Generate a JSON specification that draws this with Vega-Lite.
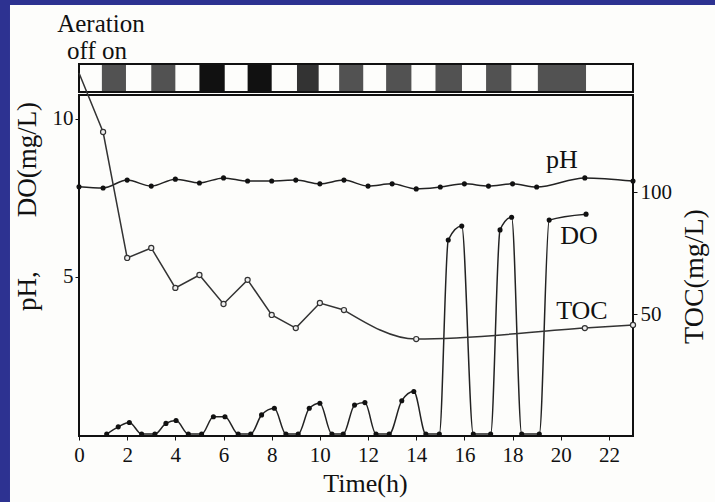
{
  "$schema": "https://vega.github.io/schema/vega-lite/v6.json",
  "autosize": {"type": "none"},
  "width": 554,
  "height": 341,
  "padding": {"left": 79, "top": 95, "right": 82, "bottom": 66},
  "background": "#2d3291",
  "config": {
    "font": "Liberation Serif",
    "view": {"stroke": null},
    "axis": {
      "labelFont": "Liberation Serif",
      "titleFont": "Liberation Serif",
      "labelColor": "#111111",
      "titleColor": "#111111",
      "tickColor": "#111111",
      "grid": false,
      "domain": false,
      "zindex": 2,
      "titleFontWeight": "normal",
      "labelOverlap": false,
      "labelFlush": false
    }
  },
  "datasets": {
    "ph": [
      {"t": 0, "ph": 7.85}, {"t": 1, "ph": 7.81}, {"t": 2, "ph": 8.06}, {"t": 3, "ph": 7.87},
      {"t": 4, "ph": 8.09}, {"t": 5, "ph": 7.97}, {"t": 6, "ph": 8.13}, {"t": 7, "ph": 8.03},
      {"t": 8, "ph": 8.03}, {"t": 9, "ph": 8.06}, {"t": 10, "ph": 7.94}, {"t": 11, "ph": 8.06},
      {"t": 12, "ph": 7.87}, {"t": 13, "ph": 7.94}, {"t": 14, "ph": 7.78}, {"t": 15, "ph": 7.84},
      {"t": 16, "ph": 7.94}, {"t": 17, "ph": 7.87}, {"t": 18, "ph": 7.94}, {"t": 19, "ph": 7.84},
      {"t": 21, "ph": 8.13}, {"t": 23, "ph": 8.03}
    ],
    "do": [
      {"t": 1.15, "do": 0}, {"t": 1.63, "do": 0.23}, {"t": 2.09, "do": 0.37}, {"t": 2.6, "do": 0},
      {"t": 3.15, "do": 0}, {"t": 3.61, "do": 0.34}, {"t": 4.03, "do": 0.43}, {"t": 4.54, "do": 0},
      {"t": 5.09, "do": 0}, {"t": 5.58, "do": 0.55}, {"t": 6.06, "do": 0.55}, {"t": 6.61, "do": 0},
      {"t": 7.13, "do": 0}, {"t": 7.58, "do": 0.61}, {"t": 8.11, "do": 0.82}, {"t": 8.59, "do": 0},
      {"t": 9.1, "do": 0}, {"t": 9.56, "do": 0.82}, {"t": 10.0, "do": 0.98}, {"t": 10.5, "do": 0},
      {"t": 10.97, "do": 0}, {"t": 11.44, "do": 0.92}, {"t": 11.87, "do": 1.0}, {"t": 12.33, "do": 0},
      {"t": 12.88, "do": 0}, {"t": 13.4, "do": 1.06}, {"t": 13.9, "do": 1.35}, {"t": 14.4, "do": 0},
      {"t": 14.96, "do": 0}, {"t": 15.33, "do": 6.16}, {"t": 15.89, "do": 6.6}, {"t": 16.37, "do": 0},
      {"t": 17.09, "do": 0}, {"t": 17.48, "do": 6.48}, {"t": 17.96, "do": 6.88}, {"t": 18.38, "do": 0},
      {"t": 19.11, "do": 0}, {"t": 19.52, "do": 6.79}, {"t": 21.05, "do": 6.98}
    ],
    "toc": [
      {"t": 0, "toc": 149}, {"t": 1, "toc": 124.8}, {"t": 2, "toc": 73.1}, {"t": 3, "toc": 77.2},
      {"t": 4, "toc": 60.8}, {"t": 5, "toc": 66.1}, {"t": 6, "toc": 54.2}, {"t": 7, "toc": 64.1},
      {"t": 8, "toc": 49.7}, {"t": 9, "toc": 44.3}, {"t": 10, "toc": 54.6}, {"t": 11, "toc": 51.7},
      {"t": 14, "toc": 39.8}, {"t": 21, "toc": 44.3}, {"t": 23, "toc": 45.6}
    ],
    "aeration": [
      {"start": 0.95, "end": 1.95, "level": "medium"},
      {"start": 3.0, "end": 4.0, "level": "medium"},
      {"start": 5.0, "end": 6.05, "level": "black"},
      {"start": 7.0, "end": 8.0, "level": "black"},
      {"start": 9.05, "end": 9.95, "level": "dark"},
      {"start": 10.8, "end": 11.8, "level": "medium"},
      {"start": 12.75, "end": 13.8, "level": "medium"},
      {"start": 14.8, "end": 15.9, "level": "medium"},
      {"start": 16.9, "end": 17.95, "level": "medium"},
      {"start": 19.05, "end": 21.05, "level": "medium"}
    ]
  },
  "encoding": {
    "x": {
      "type": "quantitative",
      "scale": {"domain": [0, 23], "nice": false, "zero": false},
      "axis": {
        "values": [0, 2, 4, 6, 8, 10, 12, 14, 16, 18, 20, 22],
        "labelFont": "Liberation Serif", "titleFont": "Liberation Serif",
        "labelFontSize": 21, "tickSize": 4, "labelPadding": 4, "zindex": 2,
        "title": "Time(h)", "titleFontSize": 26, "titleX": 286, "titleY": 34,
        "titleBaseline": "top", "titleAlign": "center"
      }
    }
  },
  "layer": [
    {
      "layer": [
        {
          "data": {"values": [{}]},
          "mark": {"type": "rect", "fill": "#fdfdfb"},
          "encoding": {
            "x": {"datum": -2.865, "type": "quantitative"},
            "x2": {"datum": 27},
            "y": {"datum": -3, "type": "quantitative", "scale": {"domain": [-0.06, 10.76], "nice": false, "zero": false}},
            "y2": {"datum": 13.615}
          }
        },
        {
          "data": {"name": "aeration"},
          "mark": {"type": "rect"},
          "encoding": {
            "x": {"field": "start", "type": "quantitative"},
            "x2": {"field": "end"},
            "y": {"datum": 10.855, "type": "quantitative"},
            "y2": {"datum": 11.74},
            "color": {"field": "level", "type": "nominal", "scale": {"domain": ["medium", "dark", "black"], "range": ["#525252", "#333333", "#111111"]}, "legend": null}
          }
        },
        {
          "data": {"values": [{}]},
          "mark": {"type": "rect", "filled": false, "stroke": "#111111", "strokeWidth": 2},
          "encoding": {
            "x": {"datum": 0, "type": "quantitative"},
            "x2": {"datum": 23},
            "y": {"datum": 10.855, "type": "quantitative"},
            "y2": {"datum": 11.74}
          }
        },
        {
          "data": {"values": [{}]},
          "mark": {"type": "rect", "filled": false, "stroke": "#111111", "strokeWidth": 2},
          "encoding": {
            "x": {"datum": 0, "type": "quantitative"},
            "x2": {"datum": 23},
            "y": {"datum": -0.06, "type": "quantitative"},
            "y2": {"datum": 10.76}
          }
        },
        {
          "data": {"name": "ph"},
          "mark": {"type": "line", "interpolate": "monotone", "color": "#222222", "strokeWidth": 1.5},
          "encoding": {
            "x": {"field": "t", "type": "quantitative"},
            "y": {"field": "ph", "type": "quantitative"}
          }
        },
        {
          "data": {"name": "ph"},
          "mark": {"type": "point", "filled": true, "color": "#111111", "size": 26, "opacity": 1},
          "encoding": {
            "x": {"field": "t", "type": "quantitative"},
            "y": {"field": "ph", "type": "quantitative"}
          }
        },
        {
          "data": {"name": "do"},
          "mark": {"type": "line", "interpolate": "monotone", "color": "#222222", "strokeWidth": 1.5},
          "encoding": {
            "x": {"field": "t", "type": "quantitative"},
            "y": {"field": "do", "type": "quantitative"}
          }
        },
        {
          "data": {"name": "do"},
          "mark": {"type": "point", "filled": true, "color": "#111111", "size": 26, "opacity": 1},
          "encoding": {
            "x": {"field": "t", "type": "quantitative"},
            "y": {"field": "do", "type": "quantitative"}
          }
        },
        {
          "data": {"values": [{}]},
          "mark": {"type": "text", "fontSize": 25, "font": "Liberation Serif", "color": "#111111", "align": "center", "baseline": "middle"},
          "encoding": {
            "x": {"datum": 0.91, "type": "quantitative"},
            "y": {"datum": 13.01, "type": "quantitative"},
            "text": {"value": "Aeration"}
          }
        },
        {
          "data": {"values": [{}]},
          "mark": {"type": "text", "fontSize": 25, "font": "Liberation Serif", "color": "#111111", "align": "center", "baseline": "middle"},
          "encoding": {
            "x": {"datum": 0.75, "type": "quantitative"},
            "y": {"datum": 12.17, "type": "quantitative"},
            "text": {"value": "off on"}
          }
        },
        {
          "data": {"values": [{}]},
          "mark": {"type": "text", "fontSize": 26, "font": "Liberation Serif", "color": "#111111", "align": "center", "baseline": "middle"},
          "encoding": {
            "x": {"datum": 20.05, "type": "quantitative"},
            "y": {"datum": 8.7, "type": "quantitative"},
            "text": {"value": "pH"}
          }
        },
        {
          "data": {"values": [{}]},
          "mark": {"type": "text", "fontSize": 26, "font": "Liberation Serif", "color": "#111111", "align": "center", "baseline": "middle"},
          "encoding": {
            "x": {"datum": 20.76, "type": "quantitative"},
            "y": {"datum": 6.29, "type": "quantitative"},
            "text": {"value": "DO"}
          }
        },
        {
          "data": {"values": [{}]},
          "mark": {"type": "text", "fontSize": 26, "font": "Liberation Serif", "color": "#111111", "align": "center", "baseline": "middle"},
          "encoding": {
            "x": {"datum": 20.88, "type": "quantitative"},
            "y": {"datum": 3.91, "type": "quantitative"},
            "text": {"value": "TOC"}
          }
        }
      ],
      "encoding": {
        "y": {
          "type": "quantitative",
          "axis": {
            "values": [5, 10], "labelFontSize": 21, "tickSize": 4, "labelPadding": 2, "zindex": 2,
            "labelFont": "Liberation Serif", "titleFont": "Liberation Serif",
            "title": "pH,\u00a0\u00a0\u00a0\u00a0\u00a0\u00a0\u00a0\u00a0DO(mg/L)",
            "titleFontSize": 27, "titleAngle": 270, "titleBaseline": "bottom", "titleAlign": "center",
            "titleX": -38, "titleY": 111
          }
        }
      }
    },
    {
      "data": {"name": "toc"},
      "encoding": {
        "y": {
          "type": "quantitative",
          "scale": {"domain": [0, 140], "nice": false, "zero": false},
          "axis": {
            "orient": "right", "values": [50, 100], "labelFontSize": 21, "tickSize": 4, "labelPadding": 3, "zindex": 2,
            "labelFont": "Liberation Serif", "titleFont": "Liberation Serif",
            "title": "TOC(mg/L)", "titleFontSize": 28, "titleAngle": 270, "titleBaseline": "bottom",
            "titleAlign": "center", "titleX": 75, "titleY": 181
          }
        }
      },
      "layer": [
        {
          "transform": [{"filter": "datum.t <= 11"}],
          "mark": {"type": "line", "interpolate": "linear", "color": "#333333", "strokeWidth": 1.5},
          "encoding": {
            "x": {"field": "t", "type": "quantitative"},
            "y": {"field": "toc", "type": "quantitative"}
          }
        },
        {
          "transform": [{"filter": "datum.t >= 11"}],
          "mark": {"type": "line", "interpolate": "monotone", "color": "#333333", "strokeWidth": 1.5},
          "encoding": {
            "x": {"field": "t", "type": "quantitative"},
            "y": {"field": "toc", "type": "quantitative"}
          }
        },
        {
          "transform": [{"filter": "datum.t > 0"}],
          "mark": {"type": "point", "filled": true, "fill": "#eeeeee", "stroke": "#333333", "strokeWidth": 1.2, "size": 26, "opacity": 1},
          "encoding": {
            "x": {"field": "t", "type": "quantitative"},
            "y": {"field": "toc", "type": "quantitative"}
          }
        }
      ]
    }
  ],
  "resolve": {"scale": {"y": "independent"}}
}
